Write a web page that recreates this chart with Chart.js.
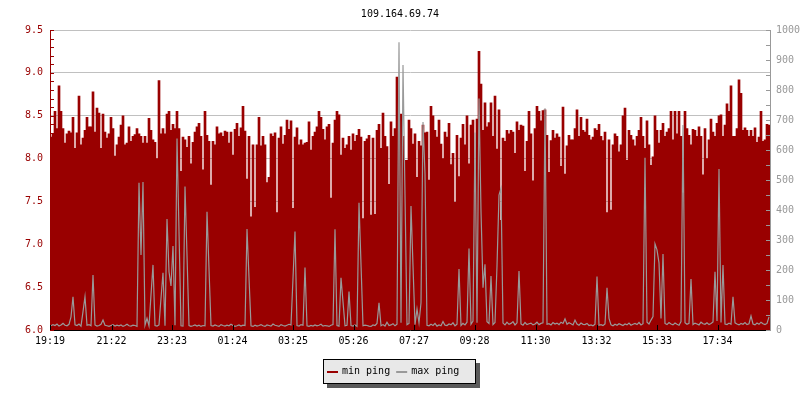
<!DOCTYPE html>
<html><head><meta charset="utf-8">
<script src="https://cdn.jsdelivr.net/npm/chart.js@4"></script>
<style>html,body{margin:0;padding:0;background:#fff}</style>
</head><body>
<canvas id="c" width="800" height="400"></canvas>
<script>
// ---------- data ----------
const chartTitle = '109.164.69.74';
const startTime = '19:19';
const stepMinutes = 4;
const spanMinutes = 1440;
const tickLabels = ['19:19','21:22','23:23','01:24','03:25','05:26','07:27','09:28','11:30','13:32','15:33','17:34'];
const leftAxis = { min: 6.0, max: 9.5, step: 0.1, labelEvery: 0.5 };
const rightAxis = { min: 0, max: 1000, step: 50, labelEvery: 100 };
const seriesLabels = ['min ping', 'max ping'];

const minPing = [
8.25,8.29,8.55,8.35,8.85,8.55,8.35,8.18,8.29,8.32, 8.30,8.48,8.12,8.30,8.73,8.16,8.24,8.33,8.48,8.37,
8.37,8.78,8.31,8.59,8.53,8.12,8.52,8.31,8.24,8.29, 8.48,8.35,8.03,8.16,8.25,8.39,8.50,8.16,8.18,8.37,
8.20,8.26,8.28,8.35,8.29,8.26,8.18,8.26,8.18,8.47, 8.33,8.22,8.19,8.00,8.91,8.29,8.35,8.29,8.52,8.55,
8.33,8.40,8.35,8.55,8.35,7.85,8.25,8.22,8.13,8.26, 7.94,8.19,8.31,8.37,8.41,8.26,7.87,8.55,8.27,8.20,
7.69,8.20,8.16,8.37,8.29,8.30,8.26,8.32,8.31,8.18, 8.31,8.04,8.34,8.41,8.26,8.36,8.61,8.32,7.76,8.26,
7.32,8.16,7.43,8.16,8.48,8.15,8.26,8.16,7.72,7.78, 8.29,8.26,8.30,7.37,8.24,8.37,8.17,8.27,8.45,8.34,
8.44,7.42,8.25,8.36,8.16,8.22,8.16,8.18,8.19,8.43, 8.10,8.26,8.31,8.37,8.55,8.48,8.34,8.22,8.37,8.40,
7.54,8.18,8.45,8.55,8.51,8.04,8.24,8.12,8.16,8.26, 8.10,8.29,8.20,8.27,8.34,8.25,7.30,8.20,8.23,8.27,
7.34,8.24,7.35,8.33,8.40,8.12,8.53,8.26,8.14,7.70, 8.43,8.26,8.35,8.95,8.37,8.52,8.26,7.98,7.98,8.45,
8.35,8.17,8.29,7.78,8.20,8.15,8.39,8.30,8.31,7.75, 8.61,8.50,8.33,8.25,8.45,8.17,8.00,8.31,8.25,8.41,
7.93,8.06,7.49,8.27,7.79,8.24,8.40,8.16,8.50,7.94, 8.39,8.45,7.84,8.46,9.25,8.87,8.33,8.65,8.37,8.42,
8.65,8.26,8.73,8.11,8.57,7.28,8.24,8.20,8.33,8.29, 8.33,8.31,8.06,8.43,8.33,8.39,8.38,7.85,8.20,8.55,
8.29,7.74,8.35,8.61,8.55,8.44,8.56,8.57,8.27,7.84, 8.21,8.33,8.24,8.29,8.25,7.91,8.60,7.82,8.15,8.27,
8.22,8.22,8.35,8.57,8.26,8.48,8.33,8.31,8.46,8.27, 8.22,8.25,8.35,8.33,8.40,8.26,8.21,8.31,7.37,8.22,
7.40,8.16,8.29,8.26,8.08,8.16,8.50,8.59,7.98,8.33, 8.27,8.22,8.15,8.26,8.33,8.48,8.26,8.12,8.44,8.16,
7.92,8.02,8.50,8.33,8.18,8.33,8.41,8.26,8.31,8.35, 8.55,8.22,8.55,8.29,8.55,8.26,7.60,8.55,8.35,8.27,
8.16,8.34,8.33,8.26,8.37,8.26,7.81,8.35,8.00,8.22, 8.46,8.31,8.26,8.41,8.50,8.51,8.26,8.39,8.64,8.55,
8.85,8.26,8.26,8.35,8.92,8.76,8.33,8.36,8.33,8.26, 8.33,8.26,8.36,8.19,8.25,8.55,8.20,8.22,8.40,8.39
];

const maxPing = [
14,18,15,20,13,17,22,16,14,19, 44,111,17,15,20,13,61,111,16,18,
14,183,17,13,15,19,33,16,14,12, 15,18,13,16,14,17,12,15,19,14,
13,16,15,12,491,250,493,16,39,14, 117,217,15,13,17,106,191,14,370,194,
147,280,16,638,328,14,13,478,250,15, 12,14,17,13,16,12,15,14,394,203,
15,13,17,14,12,18,15,13,16,14, 19,15,12,14,17,13,16,15,337,174,
14,12,16,13,15,18,14,12,17,15, 13,20,16,14,12,18,15,13,16,19,
17,172,328,15,13,18,16,208,14,12, 15,13,17,14,16,19,13,15,14,12,
16,18,336,15,13,174,94,14,16,128, 15,13,17,12,424,220,14,16,15,13,
12,17,15,22,91,14,18,13,26,15, 17,21,14,19,959,24,883,450,18,22,
413,213,18,70,24,91,693,520,16,14, 19,15,22,13,17,14,28,16,15,20,
17,24,14,19,203,15,22,17,26,272, 19,30,658,24,772,397,141,219,28,22,
180,18,25,213,450,472,23,17,26,19, 22,28,17,24,197,20,16,25,18,21,
23,17,20,26,18,22,24,739,19,21, 17,25,20,23,18,26,22,37,19,24,
21,17,33,20,16,23,19,18,22,15, 17,14,19,178,16,18,15,20,141,39,
17,14,19,16,21,18,15,20,17,23, 16,19,22,18,25,17,21,574,26,20,
33,45,287,267,224,38,253,22,18,25, 20,17,23,19,16,28,683,24,19,22,
170,18,23,20,17,26,21,19,24,18, 22,27,194,30,537,25,217,20,18,23,
19,111,24,20,17,22,19,25,18,21, 47,20,17,23,19,26,21,18,22,44
];

// ---------- styling ----------
const FONT = "'DejaVu Sans Mono', monospace";
const RED = '#990000';
const GRAY = '#999999';
const GRID = '#c0c0c0';

const toMin = t => { const [h, m] = t.split(':').map(Number); return h * 60 + m; };
const tickMinutes = tickLabels.map(t => (toMin(t) - toMin(startTime) + 1440) % 1440);
const buildTicks = a => { const out = []; const n = Math.round((a.max - a.min) / a.step); for (let k = 0; k <= n; k++) out.push({ value: +(a.min + k * a.step).toFixed(3) }); return out; };
const isLabel = (v, a) => Math.abs(v / a.labelEvery - Math.round(v / a.labelEvery)) < 1e-6;

const tickPlugin = {
  id: 'inwardTicks',
  afterDatasetsDraw(chart) {
    const c = chart.ctx, ca = chart.chartArea, s = chart.scales;
    c.save(); c.lineWidth = 1;
    c.strokeStyle = RED; c.beginPath();
    s.y.ticks.forEach(t => { const p = Math.round(s.y.getPixelForValue(t.value)) + 0.5; c.moveTo(ca.left, p); c.lineTo(ca.left + 4, p); });
    c.stroke();
    c.strokeStyle = GRAY; c.beginPath();
    s.y1.ticks.forEach(t => { const p = Math.round(s.y1.getPixelForValue(t.value)) + 0.5; c.moveTo(ca.right - 4, p); c.lineTo(ca.right, p); });
    c.stroke();
    c.strokeStyle = '#000'; c.beginPath();
    s.x.ticks.forEach(t => { const p = Math.round(s.x.getPixelForValue(t.value)) + 0.5; c.moveTo(p, ca.bottom - 5); c.lineTo(p, ca.bottom); });
    c.stroke();
    c.restore();
  }
};

const legendPlugin = {
  id: 'boxLegend',
  afterDraw(chart) {
    const c = chart.ctx;
    const bx = 323, by = 359, bw = 153, bh = 25;
    c.save();
    c.fillStyle = '#5a5a5a'; c.fillRect(bx + 4, by + 4, bw, bh);
    c.fillStyle = '#e8e8e8'; c.fillRect(bx, by, bw, bh);
    c.strokeStyle = '#000'; c.lineWidth = 1; c.strokeRect(bx + 0.5, by + 0.5, bw - 1, bh - 1);
    c.font = '10px ' + FONT; c.textBaseline = 'middle'; c.textAlign = 'left';
    const items = [chart.data.datasets[1], chart.data.datasets[0]];
    let x = bx + 4; const cy = by + 12;
    items.forEach(ds => {
      c.fillStyle = ds.legendColor; c.fillRect(x, cy, 11, 2);
      x += 15;
      c.fillStyle = '#000'; c.fillText(ds.label, x, cy);
      x += c.measureText(ds.label).width + 6;
    });
    c.restore();
  }
};

Chart.defaults.font.family = FONT;
Chart.defaults.font.size = 10;

new Chart(document.getElementById('c'), {
  type: 'bar',
  data: {
    datasets: [
      { type: 'line', label: seriesLabels[1], legendColor: GRAY,
        data: maxPing.map((v, i) => ({ x: i * stepMinutes + stepMinutes / 2, y: v })),
        yAxisID: 'y1', borderColor: GRAY, borderWidth: 1.2, pointRadius: 0, tension: 0, fill: false, order: 0 },
      { type: 'bar', label: seriesLabels[0], legendColor: RED,
        data: minPing.map((v, i) => ({ x: i * stepMinutes + stepMinutes / 2, y: v })),
        yAxisID: 'y', backgroundColor: RED, borderWidth: 0, barPercentage: 1, categoryPercentage: 1, order: 1 }
    ]
  },
  options: {
    responsive: false, animation: false, events: [],
    layout: { padding: { top: 0, left: 0, right: 0, bottom: 50 } },
    plugins: {
      legend: { display: false }, tooltip: { enabled: false },
      title: { display: true, text: chartTitle, color: '#000', font: { family: FONT, size: 10, weight: 'normal' }, padding: { top: 8, bottom: 10 } }
    },
    scales: {
      x: {
        type: 'linear', min: 0, max: spanMinutes, offset: false,
        grid: { display: false, drawTicks: false }, border: { display: true, color: '#000', width: 1 },
        afterBuildTicks: s => { s.ticks = tickMinutes.map(v => ({ value: v })); },
        ticks: { autoSkip: false, maxRotation: 0, padding: 5, color: '#000', font: { family: FONT, size: 10 },
          callback: v => { const k = tickMinutes.indexOf(v); return k >= 0 ? tickLabels[k] : ''; } },
        afterFit: s => { s.height = 20; }
      },
      y: {
        type: 'linear', position: 'left', min: leftAxis.min, max: leftAxis.max,
        afterBuildTicks: s => { s.ticks = buildTicks(leftAxis); },
        grid: { drawTicks: false, color: ctx => (ctx.tick && isLabel(ctx.tick.value, leftAxis)) ? GRID : 'rgba(0,0,0,0)' },
        border: { display: true, color: RED, width: 1 },
        ticks: { autoSkip: false, padding: 7, color: RED, font: { family: FONT, size: 10 },
          callback: v => isLabel(v, leftAxis) ? v.toFixed(1) : '' },
        afterFit: s => { s.width = 50; }
      },
      y1: {
        type: 'linear', position: 'right', min: rightAxis.min, max: rightAxis.max,
        afterBuildTicks: s => { s.ticks = buildTicks(rightAxis); },
        grid: { display: false, drawTicks: false },
        border: { display: true, color: GRAY, width: 1 },
        ticks: { autoSkip: false, padding: 6, color: GRAY, font: { family: FONT, size: 10 },
          callback: v => isLabel(v, rightAxis) ? String(v) : '' },
        afterFit: s => { s.width = 30; }
      }
    }
  },
  plugins: [tickPlugin, legendPlugin]
});
</script>
</body></html>
